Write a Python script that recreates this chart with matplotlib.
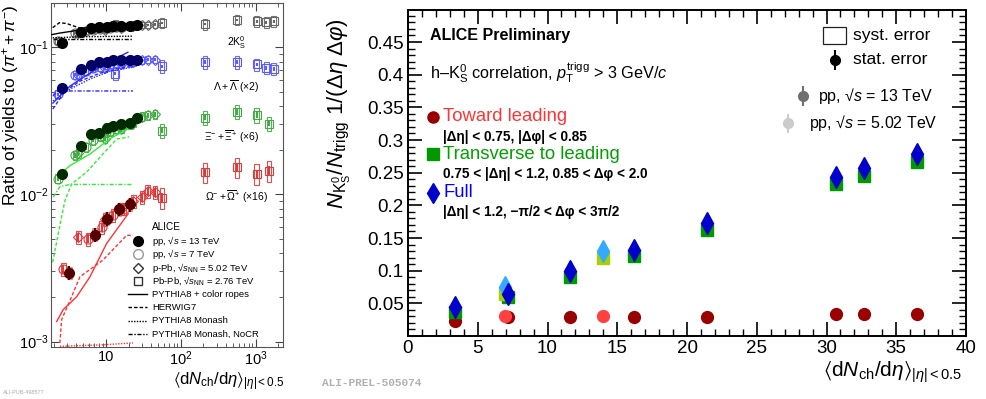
import matplotlib
matplotlib.use("Agg")
import matplotlib.pyplot as plt
import matplotlib.patches as mpatches
from matplotlib.ticker import LogLocator, MultipleLocator, NullFormatter, FuncFormatter

plt.rcParams["font.family"] = ["Liberation Sans", "DejaVu Sans"]
plt.rcParams["mathtext.fontset"] = "custom"
plt.rcParams["mathtext.rm"] = "Liberation Sans"
plt.rcParams["mathtext.it"] = "Liberation Sans:italic"
plt.rcParams["mathtext.bf"] = "Liberation Sans:bold"
plt.rcParams["mathtext.fallback"] = "stixsans"

# ---------------- painel esquerdo: razoes de yields ----------------
pp13_x = [2.6, 4.6, 6.4, 8.1, 10.2, 12.5, 15.7, 20.9, 26.1]
k0s_pp13 = [0.107, 0.128, 0.135, 0.137, 0.138, 0.139, 0.139, 0.140, 0.141]
lam_pp13 = [0.0526, 0.0713, 0.0762, 0.079, 0.080, 0.0814, 0.0814, 0.0826, 0.0826]
xi_pp13 = [0.0137, 0.0214, 0.0257, 0.0261, 0.0285, 0.0292, 0.0300, 0.0304, 0.0333]
om_pp13_x = [3.25, 7.1, 10.4, 15.0, 20.9]
om_pp13 = [0.00294, 0.00534, 0.00686, 0.00792, 0.00856]

pp7_x = [2.26, 3.9, 5.4, 6.72, 8.45, 10.1, 11.5, 13.5, 16.5, 21.3]
k0s_pp7 = [0.110, 0.125, 0.130, 0.132, 0.134, 0.135, 0.136, 0.137, 0.138, 0.139]
lam_pp7 = [0.048, 0.065, 0.069, 0.072, 0.074, 0.076, 0.077, 0.078, 0.079, 0.080]
xi_pp7 = [0.0128, 0.0185, 0.021, 0.0235, 0.025, 0.0265, 0.027, 0.028, 0.029, 0.030]
om_pp7_x = [2.7, 5.8, 8.8, 12.5, 17.5]
om_pp7 = [0.0031, 0.0050, 0.0060, 0.0072, 0.0080]

ppb_x = [4.3, 9.8, 16.1, 23.2, 30.5, 36.2, 45.0]
k0s_ppb = [0.125, 0.132, 0.136, 0.139, 0.142, 0.142, 0.143]
lam_ppb = [0.065, 0.072, 0.077, 0.080, 0.0814, 0.0826, 0.0826]
xi_ppb = [0.019, 0.024, 0.028, 0.031, 0.0338, 0.0346, 0.0351]
om_ppb = [0.00515, 0.0068, 0.0080, 0.0090, 0.0096, 0.0105, 0.0104]

pbpb_x = [13.4, 56, 210, 560, 1020, 1380, 1720]
k0s_pbpb = [0.141, 0.146, 0.1436, 0.153, 0.150, 0.148, 0.150]
lam_pbpb = [0.066, 0.0745, 0.0794, 0.0794, 0.0765, 0.0724, 0.0713]
pbpb_ms_x = [56, 210, 560, 1020, 1500]
xi_pbpb = [0.0271, 0.0333, 0.0364, 0.0347, 0.0303]
om_pbpb = [0.0095, 0.01415, 0.0153, 0.0138, 0.0145]

# modelos (PYTHIA8 ropes, HERWIG7, Monash, Monash NoCR)
k0s_ropes_x = [1.9, 2.43, 3.31, 4.94, 8.32, 14.5, 22.9]
k0s_ropes_y = [0.122, 0.125, 0.128, 0.132, 0.1355, 0.1376, 0.1387]
k0s_herwig_x = [1.95, 2.4, 3.0, 4.5, 8.0, 23.0]
k0s_herwig_y = [0.136, 0.147, 0.145, 0.135, 0.137, 0.139]
k0s_monash_x = [1.95, 5.0, 23.0]
k0s_monash_y = [0.116, 0.118, 0.119]
k0s_nocr_x = [1.95, 23.0]
k0s_nocr_y = [0.114, 0.114]

lam_ropes_x = [1.96, 3.31, 6.1, 11.3, 19.6]
lam_ropes_y = [0.0418, 0.0545, 0.0667, 0.0804, 0.0925]
lam_herwig_x = [1.96, 2.84, 4.5, 8.3, 15.4, 22.9]
lam_herwig_y = [0.0381, 0.0504, 0.0589, 0.0667, 0.0721, 0.0744]
lam_monash_x = [1.96, 3.31, 6.1, 11.3, 22.9]
lam_monash_y = [0.0432, 0.052, 0.0608, 0.0688, 0.0733]
lam_nocr_x = [1.96, 2.3, 22.9]
lam_nocr_y = [0.0467, 0.0505, 0.0505]

xi_ropes_x = [2.3, 3.31, 6.1, 11.3, 22.0]
xi_ropes_y = [0.0134, 0.0157, 0.0188, 0.0239, 0.0288]
xi_herwig_x = [1.95, 2.43, 2.84, 3.49, 5.53, 8.32, 13.9, 20.4]
xi_herwig_y = [0.00347, 0.00617, 0.0091, 0.0118, 0.0142, 0.0179, 0.0238, 0.0246]
xi_nocr_x = [1.98, 2.43, 3.31, 22.9]
xi_nocr_y = [0.0096, 0.0113, 0.0117, 0.0117]

om_ropes_x = [2.2, 2.69, 4.07, 6.12, 10.2, 19.8]
om_ropes_y = [0.00137, 0.00165, 0.00202, 0.00276, 0.00464, 0.0074]
om_herwig_x = [2.43, 2.56, 3.31, 4.5, 9.1, 18.9, 22.9]
om_herwig_y = [0.00098, 0.00141, 0.0019, 0.00276, 0.00358, 0.00528, 0.00528]
om_monash_x = [2.43, 8.3, 23.0]
om_monash_y = [0.00093, 0.00095, 0.00098]

# ---------------- painel direito: h-K0S ----------------
dn13 = [3.4, 7.2, 11.6, 16.2, 21.4, 30.7, 32.7, 36.5]
toward13 = [0.023, 0.029, 0.0285, 0.0286, 0.0295, 0.0342, 0.0338, 0.0342]
transv13 = [0.036, 0.060, 0.091, 0.122, 0.163, 0.232, 0.245, 0.267]
full13 = [0.044, 0.065, 0.099, 0.131, 0.173, 0.244, 0.257, 0.279]
dn5 = [6.95, 14.0]
toward5 = [0.0305, 0.030]
transv5 = [0.065, 0.119]
full5 = [0.075, 0.130]


def estilo_log(ax):
    ax.set_xscale("log")
    ax.set_yscale("log")
    ax.set_xlim(1.85, 2300)
    ax.set_ylim(9.2e-4, 0.2)
    ax.set_xticks([10, 100, 1000], ["10", r"$10^2$", r"$10^3$"])
    ax.set_yticks([1e-3, 1e-2, 1e-1], [r"$10^{-3}$", r"$10^{-2}$", r"$10^{-1}$"])
    ax.xaxis.set_minor_locator(LogLocator(base=10, subs=range(2, 10)))
    ax.yaxis.set_minor_locator(LogLocator(base=10, subs=range(2, 10)))
    ax.xaxis.set_minor_formatter(NullFormatter())
    ax.yaxis.set_minor_formatter(NullFormatter())
    ax.tick_params(which="both", direction="in", top=True, right=True,
                   labelsize=10.5, pad=2, color="#444444")
    ax.tick_params(which="major", length=6, width=0.8)
    ax.tick_params(which="minor", length=3, width=0.6)
    for s in ax.spines.values():
        s.set_color("#555555")
        s.set_linewidth(0.8)


def caixas(ax, x, y, rel, cor, cheio):
    for xi, yi in zip(x, y):
        r = mpatches.Rectangle((xi * 0.93, yi * (1 - rel)), xi * 0.14, 2 * yi * rel,
                               facecolor=cor if cheio else "none", edgecolor=cor,
                               alpha=0.55 if cheio else 0.9, lw=0.8, zorder=2)
        ax.add_patch(r)


def especie(ax, d):
    caixas(ax, d["pp13_x"], d["pp13"], d["syst"], d["box"], True)
    caixas(ax, d["pp7_x"], d["pp7"], d["syst"], d["open"], False)
    caixas(ax, d["ppb_x"], d["ppb"], d["syst"], d["open"], False)
    caixas(ax, d["pbpb_x"], d["pbpb"], d["syst"] * 1.6, d["open"], False)
    ax.errorbar(d["pp7_x"], d["pp7"], yerr=[v * d["stat"] for v in d["pp7"]], fmt="o",
                mfc="none", mec=d["open"], ecolor=d["open"], ms=6.5, mew=0.8, zorder=3)
    ax.errorbar(d["ppb_x"], d["ppb"], yerr=[v * d["stat"] for v in d["ppb"]], fmt="D",
                mfc="none", mec=d["open"], ecolor=d["open"], ms=5, mew=0.8, zorder=3)
    ax.errorbar(d["pbpb_x"], d["pbpb"], yerr=[v * d["stat"] for v in d["pbpb"]], fmt="s",
                mfc="none", mec=d["open"], ecolor=d["open"], ms=5.5, mew=0.8, zorder=3)
    for (lx, ly), ls in zip(d["linhas"], d["estilos"]):
        if lx is None:
            continue
        ax.plot(lx, ly, color=d["line"], ls=ls, lw=1.0, zorder=4)
    ax.errorbar(d["pp13_x"], d["pp13"], yerr=[v * d["stat"] * 1.5 for v in d["pp13"]],
                fmt="o", color=d["dark"], ecolor=d["dark"], ms=7, elinewidth=1.5, zorder=5)


fig = plt.figure(figsize=(9.87, 3.99), dpi=100)
ax1 = fig.add_axes([51 / 987, 1 - 347 / 399, 232 / 987, 344 / 399])
ax2 = fig.add_axes([408 / 987, 1 - 336 / 399, 558 / 987, 326 / 399])

estilos = ["-", (0, (2.5, 1.5)), (0, (1, 1)), (0, (3, 1.2, 1, 1.2))]
especies = [
    dict(pp13_x=pp13_x, pp13=k0s_pp13, pp7_x=pp7_x, pp7=k0s_pp7, ppb_x=ppb_x, ppb=k0s_ppb,
         pbpb_x=pbpb_x, pbpb=k0s_pbpb, dark="#000000", open="#666666", box="#888888",
         line="#000000", syst=0.05, stat=0.02,
         linhas=[(k0s_ropes_x, k0s_ropes_y), (k0s_herwig_x, k0s_herwig_y),
                 (k0s_monash_x, k0s_monash_y), (k0s_nocr_x, k0s_nocr_y)], estilos=estilos),
    dict(pp13_x=pp13_x, pp13=lam_pp13, pp7_x=pp7_x, pp7=lam_pp7, ppb_x=ppb_x, ppb=lam_ppb,
         pbpb_x=pbpb_x, pbpb=lam_pbpb, dark="#000066", open="#5a5aff", box="#7777ee",
         line="#2a2aff", syst=0.06, stat=0.025,
         linhas=[(lam_ropes_x, lam_ropes_y), (lam_herwig_x, lam_herwig_y),
                 (lam_monash_x, lam_monash_y), (lam_nocr_x, lam_nocr_y)], estilos=estilos),
    dict(pp13_x=pp13_x, pp13=xi_pp13, pp7_x=pp7_x, pp7=xi_pp7, ppb_x=ppb_x, ppb=xi_ppb,
         pbpb_x=pbpb_ms_x, pbpb=xi_pbpb, dark="#002b00", open="#44aa44", box="#66bb66",
         line="#33ee33", syst=0.07, stat=0.04,
         linhas=[(xi_ropes_x, xi_ropes_y), (xi_herwig_x, xi_herwig_y),
                 (None, None), (xi_nocr_x, xi_nocr_y)], estilos=estilos),
    dict(pp13_x=om_pp13_x, pp13=om_pp13, pp7_x=om_pp7_x, pp7=om_pp7, ppb_x=ppb_x, ppb=om_ppb,
         pbpb_x=pbpb_ms_x, pbpb=om_pbpb, dark="#550000", open="#dd3b3b", box="#dd5555",
         line="#ff3333", syst=0.1, stat=0.07,
         linhas=[(om_ropes_x, om_ropes_y), (om_herwig_x, om_herwig_y),
                 (om_monash_x, om_monash_y), (None, None)], estilos=estilos),
]
for d in especies:
    especie(ax1, d)
estilo_log(ax1)

# rotulos das especies
fs = 7.5
ax1.text(0.80, 0.886, r"2K$^{0}_{\rm S}$", transform=ax1.transAxes, ha="center", va="center", fontsize=fs)
ax1.text(0.80, 0.758, r"$\Lambda+\overline{\Lambda}$ (×2)", transform=ax1.transAxes, ha="center", va="center", fontsize=fs)
ax1.text(0.78, 0.610, r"$\Xi^{-}+\overline{\Xi}^{+}$ (×6)", transform=ax1.transAxes, ha="center", va="center", fontsize=fs)
ax1.text(0.80, 0.436, r"$\Omega^{-}+\overline{\Omega}^{+}$ (×16)", transform=ax1.transAxes, ha="center", va="center", fontsize=fs)

# legenda do painel esquerdo
ax1.text(0.435, 0.349, "ALICE", transform=ax1.transAxes, va="center", fontsize=7.2)
leg_y = [0.308, 0.270, 0.230, 0.192, 0.154, 0.116, 0.076, 0.038]
leg_txt = ["pp, √$s$ = 13 TeV", "pp, √$s$ = 7 TeV",
           r"p-Pb, √$s_{\rm NN}$ = 5.02 TeV", r"Pb-Pb, √$s_{\rm NN}$ = 2.76 TeV",
           "PYTHIA8 + color ropes", "HERWIG7", "PYTHIA8 Monash", "PYTHIA8 Monash, NoCR"]
for yy, tt in zip(leg_y, leg_txt):
    ax1.text(0.435, yy, tt, transform=ax1.transAxes, va="center", fontsize=6.8)
ax1.plot([0.375], [leg_y[0]], "o", color="k", ms=7, transform=ax1.transAxes, clip_on=False)
ax1.plot([0.375], [leg_y[1]], "o", mfc="none", mec="#999999", ms=7, transform=ax1.transAxes, clip_on=False)
ax1.plot([0.375], [leg_y[2]], "D", mfc="none", mec="#333333", ms=5.5, transform=ax1.transAxes, clip_on=False)
ax1.plot([0.375], [leg_y[3]], "s", mfc="none", mec="#333333", ms=5.5, transform=ax1.transAxes, clip_on=False)
for yy, ls in zip(leg_y[4:], estilos):
    ax1.plot([0.332, 0.414], [yy, yy], color="k", ls=ls, lw=1.0, transform=ax1.transAxes)

ax1.set_ylabel(r"Ratio of yields to $(\pi^{+}+\pi^{-})$", fontsize=12.5, loc="top")
ax1.yaxis.set_label_coords(-0.13, 0.995)
ax1.text(1.005, -0.068, r"$\langle\mathrm{d}N_{\rm ch}/\mathrm{d}\eta\rangle_{|\eta|<0.5}$",
         transform=ax1.transAxes, ha="right", va="top", fontsize=12)

# ---------------- painel direito ----------------
ax2.errorbar(dn13, toward13, yerr=0.001, fmt="o", color="#990000", ms=8.5, zorder=3)
ax2.errorbar(dn5, toward5, yerr=0.001, fmt="o", color="#ff4040", ms=8.5, zorder=3)
ax2.errorbar(dn13, transv13, yerr=0.003, fmt="s", color="#009900", ms=8, zorder=4)
ax2.errorbar(dn5, transv5, yerr=0.003, fmt="s", color="#a8d000", ms=8, zorder=4)
ax2.errorbar(dn5, full5, yerr=0.004, fmt="d", color="#33aaff", ms=11, zorder=5)
ax2.errorbar(dn13, full13, yerr=0.004, fmt="d", color="#0000cc", ms=11, zorder=6)

ax2.set_xlim(0, 40)
ax2.set_ylim(0, 0.499)
ax2.xaxis.set_major_locator(MultipleLocator(5))
ax2.xaxis.set_minor_locator(MultipleLocator(1))
ax2.yaxis.set_major_locator(MultipleLocator(0.05))
ax2.yaxis.set_minor_locator(MultipleLocator(0.01))
ax2.yaxis.set_major_formatter(FuncFormatter(lambda v, p: "%g" % round(v, 3) if v > 0.001 else ""))
ax2.tick_params(which="both", direction="in", top=True, right=True, labelsize=13.5, pad=3)
ax2.tick_params(which="major", length=10, width=1.2)
ax2.tick_params(which="minor", length=5, width=1.0)
for s in ax2.spines.values():
    s.set_linewidth(1.4)

ax2.set_ylabel(r"$N_{\mathrm{K}^{0}_{\mathrm{S}}}/N_{\mathrm{trigg}}\ 1/(\Delta\eta\ \Delta\varphi)$",
               fontsize=16, loc="top")
ax2.yaxis.set_label_coords(-0.098, 0.975)
ax2.text(0.993, -0.072, r"$\langle\mathrm{d}N_{\rm ch}/\mathrm{d}\eta\rangle_{|\eta|<0.5}$",
         transform=ax2.transAxes, ha="right", va="top", fontsize=15)

ax2.text(0.039, 0.923, "ALICE Preliminary", transform=ax2.transAxes, va="center",
         fontsize=11.5, fontweight="bold")
ax2.text(0.039, 0.807, r"h–K$^{0}_{\rm S}$ correlation, $p_{\rm T}^{\rm trigg}$ > 3 GeV/$c$",
         transform=ax2.transAxes, va="center", fontsize=11.7)

# legenda das regioes
regioes = [("Toward leading", "#ff3333", "o", "#990000", 0.672, 0.610,
            "|Δη| < 0.75, |Δφ| < 0.85"),
           ("Transverse to leading", "#00a000", "s", "#009900", 0.558, 0.497,
            "0.75 < |Δη| < 1.2, 0.85 < Δφ < 2.0"),
           ("Full", "#0000ff", "d", "#0000cc", 0.439, 0.380,
            "|Δη| < 1.2, −π/2 < Δφ < 3π/2")]
for nome, cor_txt, mk, cor_mk, yy, ysub, sub in regioes:
    ax2.plot([0.045], [yy], mk, color=cor_mk, ms=8 if mk != "d" else 10, transform=ax2.transAxes)
    ax2.text(0.063, yy, nome, color=cor_txt, transform=ax2.transAxes, va="center", fontsize=13.3)
    ax2.text(0.063, ysub, sub, transform=ax2.transAxes, va="center", fontsize=9.8, fontweight="bold")

# legenda de erros / energias
ax2.add_patch(mpatches.Rectangle((0.744, 0.896), 0.041, 0.052, transform=ax2.transAxes,
                                 fill=False, edgecolor="#222222", lw=0.9))
ax2.text(0.7975, 0.923, "syst. error", transform=ax2.transAxes, va="center", fontsize=12.5)
ax2.errorbar([0.765], [0.847], yerr=0.03, fmt="o", color="k", ms=7, transform=ax2.transAxes)
ax2.text(0.7975, 0.847, "stat. error", transform=ax2.transAxes, va="center", fontsize=12.5)
ax2.errorbar([0.708], [0.736], yerr=0.03, fmt="o", color="#707070", ms=7, transform=ax2.transAxes)
ax2.text(0.735, 0.736, "pp, √$s$ = 13 TeV", transform=ax2.transAxes, va="center", fontsize=11.5)
ax2.errorbar([0.681], [0.652], yerr=0.03, fmt="o", color="#cccccc", ms=7, transform=ax2.transAxes)
ax2.text(0.7186, 0.652, "pp, √$s$ = 5.02 TeV", transform=ax2.transAxes, va="center", fontsize=11.5)

fig.text(322 / 987, 1 - 383 / 399, "ALI-PREL-505074", family="Liberation Mono",
         fontweight="bold", color="#b0b0b0", fontsize=8, va="center")
fig.text(3 / 987, 1 - 393 / 399, "ALI-PUB-498577", color="#aaaaaa", fontsize=4, va="center")

fig.savefig("out.png", dpi=100)
